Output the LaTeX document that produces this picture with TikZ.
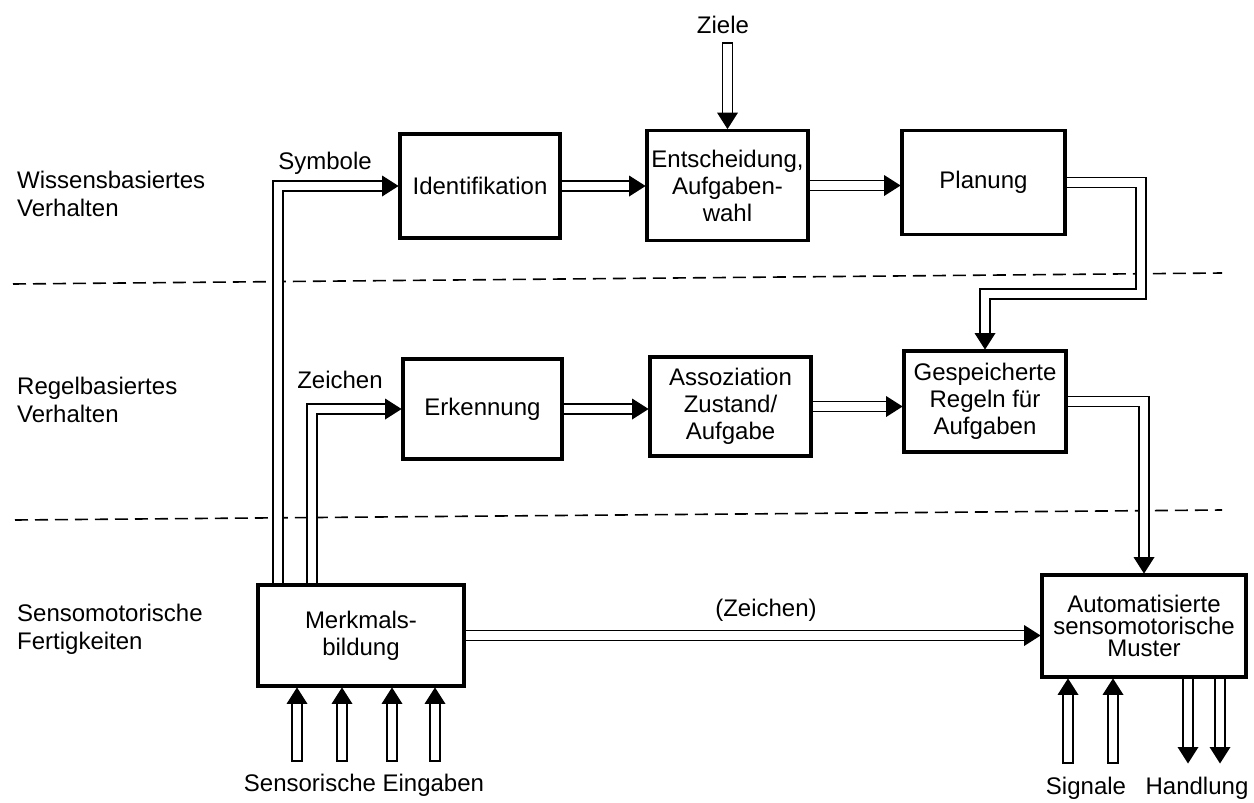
\documentclass[tikz,border=0pt]{standalone}
\usepackage{fontspec}
\setmainfont{Liberation Sans}
\usetikzlibrary{decorations.markings}

\tikzset{
  box/.style={draw, line width=3.8pt, inner sep=2pt, align=center,
    font=\fontsize{24}{27}\selectfont},
  lbl/.style={inner sep=0pt, align=left, font=\fontsize{24}{28}\selectfont},
  dline/.style={draw, line width=1.4pt, double, double distance=8.5pt},
  tip/.style={dline, shorten >=15pt,
    postaction={decorate, decoration={markings,
      mark=at position 1 with {\fill (0.5pt,0pt) -- (-16pt,10.5pt) -- (-16pt,-10.5pt) -- cycle;}}}},
  tailbar/.style={postaction={decorate, decoration={markings,
      mark=at position 0 with {\fill (-0.7pt,-5.65pt) rectangle (0.7pt,5.65pt);}}}},
  sep/.style={line width=1.6pt, dash pattern=on 13pt off 7pt}
}

\begin{document}
\begin{tikzpicture}[x=1pt,y=-1pt]
\useasboundingbox (0,0) rectangle (1254,803);

% separators
\draw[sep] (13,284) -- (1222,273);
\draw[sep] (15,520) -- (1222,510);

% layer labels
\node[lbl, anchor=west] (wiss) at (17,194) {Wissensbasiertes\\Verhalten};
\node[lbl, anchor=west] (regel) at (17,400) {Regelbasiertes\\Verhalten};
\node[lbl, anchor=west] (senso) at (17,629) {Sensomotorische\\Fertigkeiten};

% boxes
\node[box, minimum width=160pt, minimum height=104pt] (ident) at (480,186) {Identifikation};
\node[box, minimum width=161pt, minimum height=110pt] (ents) at (727.5,185.5) {Entscheidung,\\Aufgaben-\\wahl};
\node[box, minimum width=163pt, minimum height=104pt] (plan) at (983.5,182.5) {Planung};
\node[box, minimum width=159pt, minimum height=100pt] (erk) at (482.5,409) {Erkennung};
\node[box, minimum width=161pt, minimum height=99pt] (assoz) at (730.5,406.5) {Assoziation\\Zustand/\\Aufgabe};
\node[box, minimum width=162pt, minimum height=101pt] (gesp) at (985,401.5) {Gespeicherte\\Regeln für\\Aufgaben};
\node[box, minimum width=206pt, minimum height=101pt] (merk) at (361,635.5) {Merkmals-\\bildung};
\node[box, minimum width=204pt, minimum height=102pt, font=\fontsize{24}{22}\selectfont] (auto) at (1144,626) {Automatisierte\\sensomotorische\\Muster};

% labels
\node[lbl] (ziele) at (723,25) {Ziele};
\node[lbl] (symb) at (325,163) {Symbole};
\node[lbl] (zch) at (340,380) {Zeichen};
\node[lbl] (zch2) at (766,610) {(Zeichen)};
\node[lbl] (sens) at (364,785) {Sensorische Eingaben};
\node[lbl] (sig) at (1086,788) {Signale};
\node[lbl] (hand) at (1197,788) {Handlung};

% connectors
\draw[tip] (ident.east) -- (ident.east -| ents.west);
\draw[tip] (ents.east) -- (ents.east -| plan.west);
\draw[tip] (erk.east) -- (erk.east -| assoz.west);
\draw[tip] (assoz.east) -- (assoz.east -| gesp.west);
\draw[tip] (merk.east) -- (merk.east -| auto.west);
\draw[tip] ([xshift=22pt]merk.north west) |- (ident.west);
\draw[tip] ([xshift=56pt]merk.north west) |- (erk.west);
\coordinate (pbend) at (1141,294);
\draw[tip] (plan.east) -| (pbend) -| (gesp.north);
\draw[tip] (gesp.east) -| (auto.north);

\coordinate (zt) at (727.5,43);
\draw[tip, tailbar] (zt) -- (zt |- ents.north);

\foreach \x [count=\i] in {297,342,392,435} {
  \coordinate (s\i) at (\x,761);
  \draw[tip, tailbar] (s\i) -- (s\i |- merk.south);
}
\foreach \x [count=\i] in {1068,1113} {
  \coordinate (g\i) at (\x,763);
  \draw[tip, tailbar] (g\i) -- (g\i |- auto.south);
}
\foreach \x [count=\i] in {1188,1220} {
  \coordinate (h\i) at (\x,763);
  \draw[tip] (h\i |- auto.south) -- (h\i);
}
\end{tikzpicture}
\end{document}
